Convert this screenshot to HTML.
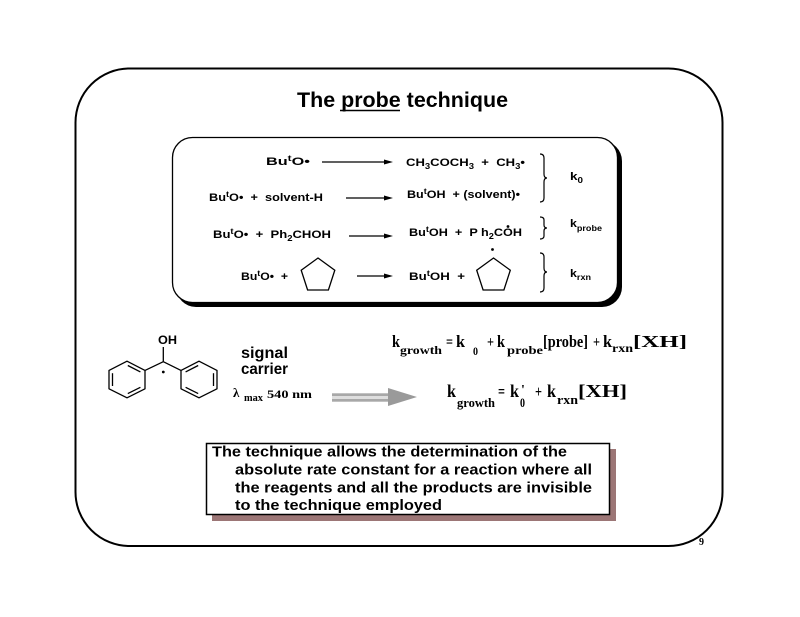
<!DOCTYPE html>
<html><head><meta charset="utf-8"><style>
html,body{margin:0;padding:0;background:#fff;}
svg{display:block;}
.a{font-family:"Liberation Sans",Arial,sans-serif;font-weight:bold;}
.t{font-family:"Liberation Serif","Times New Roman",serif;font-weight:bold;}
</style></head><body>
<svg width="800" height="617" viewBox="0 0 800 617" xmlns="http://www.w3.org/2000/svg">
<rect x="0" y="0" width="800" height="617" fill="#fff"/>
<!-- outer box -->
<rect x="75.5" y="68.5" width="647" height="477.5" rx="54" ry="54" fill="none" stroke="#000" stroke-width="2"/>
<!-- title -->
<text class="a" x="297" y="107" font-size="21" textLength="211" lengthAdjust="spacingAndGlyphs">The probe technique</text>
<line x1="340" y1="110.5" x2="400" y2="110.5" stroke="#000" stroke-width="1.6"/>

<!-- inner reaction box -->
<rect x="176" y="141" width="446" height="166" rx="20" ry="20" fill="#000"/>
<rect x="172.5" y="137.5" width="445" height="165" rx="20" ry="20" fill="#fff" stroke="#000" stroke-width="1.3"/>

<g class="a" font-size="11" fill="#000">
<!-- row1 -->
<text x="266" y="165" textLength="44" lengthAdjust="spacingAndGlyphs">Bu<tspan dy="-4" font-size="8">t</tspan><tspan dy="4">O•</tspan></text>
<text x="406" y="166" textLength="119" lengthAdjust="spacingAndGlyphs">CH<tspan dy="3" font-size="8">3</tspan><tspan dy="-3">COCH</tspan><tspan dy="3" font-size="8">3</tspan><tspan dy="-3">&#160;&#160;+&#160;&#160;CH</tspan><tspan dy="3" font-size="8">3</tspan><tspan dy="-3">•</tspan></text>
<!-- row2 -->
<text x="209" y="201" textLength="114" lengthAdjust="spacingAndGlyphs">Bu<tspan dy="-4" font-size="8">t</tspan><tspan dy="4">O•&#160;&#160;+&#160;&#160;solvent-H</tspan></text>
<text x="407" y="198" textLength="113" lengthAdjust="spacingAndGlyphs">Bu<tspan dy="-4" font-size="8">t</tspan><tspan dy="4">OH&#160;&#160;+ (solvent)•</tspan></text>
<!-- row3 -->
<text x="213" y="238" textLength="118" lengthAdjust="spacingAndGlyphs">Bu<tspan dy="-4" font-size="8">t</tspan><tspan dy="4">O•&#160;&#160;+&#160;&#160;Ph</tspan><tspan dy="3" font-size="8">2</tspan><tspan dy="-3">CHOH</tspan></text>
<text x="409" y="236" textLength="113" lengthAdjust="spacingAndGlyphs">Bu<tspan dy="-4" font-size="8">t</tspan><tspan dy="4">OH&#160;&#160;+&#160;&#160;P h</tspan><tspan dy="3" font-size="8">2</tspan><tspan dy="-3">COH</tspan></text>
<circle cx="508" cy="226.5" r="1.4" fill="#000"/>
<!-- row4 -->
<text x="241" y="280" textLength="47" lengthAdjust="spacingAndGlyphs">Bu<tspan dy="-4" font-size="8">t</tspan><tspan dy="4">O•&#160;&#160;+</tspan></text>
<text x="409" y="280" textLength="56" lengthAdjust="spacingAndGlyphs">Bu<tspan dy="-4" font-size="8">t</tspan><tspan dy="4">OH&#160;&#160;+</tspan></text>
<!-- labels -->
<text x="570" y="180" textLength="13" lengthAdjust="spacingAndGlyphs">k<tspan dy="3" font-size="8">0</tspan></text>
<text x="570" y="227" textLength="32" lengthAdjust="spacingAndGlyphs">k<tspan dy="4" font-size="8">probe</tspan></text>
<text x="570" y="277" textLength="21" lengthAdjust="spacingAndGlyphs">k<tspan dy="3" font-size="8">rxn</tspan></text>
</g>

<!-- arrows -->
<g stroke="#000" stroke-width="1.2">
<line x1="322" y1="162" x2="386" y2="162"/>
<line x1="346" y1="198" x2="386" y2="198"/>
<line x1="349" y1="236" x2="386" y2="236"/>
<line x1="357" y1="276" x2="386" y2="276"/>
</g>
<g fill="#000">
<polygon points="393,162 384,159.5 384,164.5"/>
<polygon points="393,198 384,195.5 384,200.5"/>
<polygon points="393,236 384,233.5 384,238.5"/>
<polygon points="393,276 384,273.5 384,278.5"/>
</g>

<!-- pentagons -->
<g fill="none" stroke="#000" stroke-width="1.3">
<polygon points="318,258 334.8,270.2 328.4,290 307.6,290 301.2,270.2"/>
<polygon points="493.5,258 510.3,270.2 503.9,290 483.1,290 476.7,270.2"/>
</g>
<circle cx="492.5" cy="249.5" r="1.4" fill="#000"/>

<!-- braces -->
<g fill="none" stroke="#000" stroke-width="1.2">
<path d="M540,154 Q544,154 544,158 L544,174 Q544,178 547,178 Q544,178 544,182 L544,198 Q544,202 540,202"/>
<path d="M540,217 Q544,217 544,220 L544,225 Q544,228 547,228 Q544,228 544,231 L544,236 Q544,239 540,239"/>
<path d="M540,253 Q544,253 544,257 L544,268 Q544,272 547,272 Q544,272 544,276 L544,288 Q544,292 540,292"/>
</g>

<!-- diphenyl radical structure -->
<text class="a" x="158" y="344" font-size="12" textLength="19" lengthAdjust="spacingAndGlyphs" font-weight="normal">OH</text>
<g fill="none" stroke="#000" stroke-width="1.3" stroke-linejoin="round">
<line x1="163.3" y1="347" x2="163.3" y2="361.7"/>
<line x1="163.3" y1="361.7" x2="145" y2="370.4"/>
<line x1="163.3" y1="361.7" x2="181" y2="370.4"/>
<polygon points="127,361.2 145,370.4 145,388.8 127,397.8 109,388.8 109,370.4"/>
<line x1="127.8" y1="365.5" x2="140.4" y2="371.9"/>
<line x1="140.4" y1="387.3" x2="127.8" y2="393.6"/>
<line x1="112.5" y1="373.2" x2="112.5" y2="386"/>
<polygon points="199,361.2 217,370.4 217,388.8 199,397.8 181,388.8 181,370.4"/>
<line x1="198.2" y1="365.5" x2="185.6" y2="371.9"/>
<line x1="185.6" y1="387.3" x2="198.2" y2="393.6"/>
<line x1="213.5" y1="373.2" x2="213.5" y2="386"/>
</g>
<circle cx="163.3" cy="372" r="1.4" fill="#000"/>

<text class="a" x="241" y="358" font-size="15.5" textLength="47" lengthAdjust="spacingAndGlyphs">signal</text>
<text class="a" x="241" y="374" font-size="15.5" textLength="47" lengthAdjust="spacingAndGlyphs">carrier</text>

<text class="t" x="233" y="397" font-size="13" font-weight="normal">λ</text>
<text class="t" x="244" y="401" font-size="10" textLength="19" lengthAdjust="spacingAndGlyphs">max</text>
<text class="t" x="267" y="398" font-size="12" textLength="45" lengthAdjust="spacingAndGlyphs">540 nm</text>

<!-- gray arrow -->
<rect x="332" y="393.3" width="58" height="8.4" fill="#a8a8a8"/>
<rect x="332" y="396" width="58" height="3" fill="#dedede"/>
<polygon points="388,388 417,397 388,406" fill="#9a9a9a"/>

<!-- equation 1 -->
<g class="t" fill="#000">
<text x="392" y="347" font-size="17" textLength="8" lengthAdjust="spacingAndGlyphs">k</text>
<text x="400" y="354" font-size="12" textLength="42" lengthAdjust="spacingAndGlyphs">growth</text>
<text x="446" y="347" font-size="16" textLength="7" lengthAdjust="spacingAndGlyphs">=</text>
<text x="456" y="347" font-size="17" textLength="9" lengthAdjust="spacingAndGlyphs">k</text>
<text x="473" y="355" font-size="12" textLength="5" lengthAdjust="spacingAndGlyphs">0</text>
<text x="487" y="347" font-size="16" textLength="7" lengthAdjust="spacingAndGlyphs">+</text>
<text x="497" y="347" font-size="17" textLength="8" lengthAdjust="spacingAndGlyphs">k</text>
<text x="507" y="354" font-size="12" textLength="36" lengthAdjust="spacingAndGlyphs">probe</text>
<text x="543" y="347" font-size="17" textLength="45" lengthAdjust="spacingAndGlyphs">[probe]</text>
<text x="593" y="347" font-size="16" textLength="7" lengthAdjust="spacingAndGlyphs">+</text>
<text x="603" y="347" font-size="17" textLength="9" lengthAdjust="spacingAndGlyphs">k</text>
<text x="612" y="352" font-size="12" textLength="21" lengthAdjust="spacingAndGlyphs">rxn</text>
<text x="633" y="347" font-size="17" textLength="54" lengthAdjust="spacingAndGlyphs">[XH]</text>
</g>

<!-- equation 2 -->
<g class="t" fill="#000">
<text x="447" y="397" font-size="18" textLength="9" lengthAdjust="spacingAndGlyphs">k</text>
<text x="457" y="407" font-size="12.5" textLength="38" lengthAdjust="spacingAndGlyphs">growth</text>
<text x="498" y="397" font-size="17" textLength="7" lengthAdjust="spacingAndGlyphs">=</text>
<text x="510" y="397" font-size="18" textLength="9" lengthAdjust="spacingAndGlyphs">k</text>
<text x="521" y="394" font-size="14">'</text>
<text x="520" y="407" font-size="12.5" textLength="5" lengthAdjust="spacingAndGlyphs">0</text>
<text x="535" y="397" font-size="17" textLength="7" lengthAdjust="spacingAndGlyphs">+</text>
<text x="547" y="397" font-size="18" textLength="9" lengthAdjust="spacingAndGlyphs">k</text>
<text x="557" y="404" font-size="12.5" textLength="21" lengthAdjust="spacingAndGlyphs">rxn</text>
<text x="578" y="397" font-size="18" textLength="49" lengthAdjust="spacingAndGlyphs">[XH]</text>
</g>

<!-- bottom text box -->
<rect x="212" y="449" width="404" height="72" fill="#9c7676"/>
<rect x="206.5" y="443.5" width="403" height="71" fill="#fff" stroke="#000" stroke-width="1.5"/>
<g class="a" font-size="14.5" fill="#000">
<text x="212" y="456.5" textLength="355" lengthAdjust="spacingAndGlyphs">The technique allows the determination of the</text>
<text x="235" y="474.5" textLength="357" lengthAdjust="spacingAndGlyphs">absolute rate constant for a reaction where all</text>
<text x="235" y="492.5" textLength="357" lengthAdjust="spacingAndGlyphs">the reagents and all the products are invisible</text>
<text x="235" y="510" textLength="207" lengthAdjust="spacingAndGlyphs">to the technique employed</text>
</g>

<!-- page number -->
<text class="t" x="699" y="545" font-size="10" font-weight="normal">9</text>
</svg>
</body></html>
